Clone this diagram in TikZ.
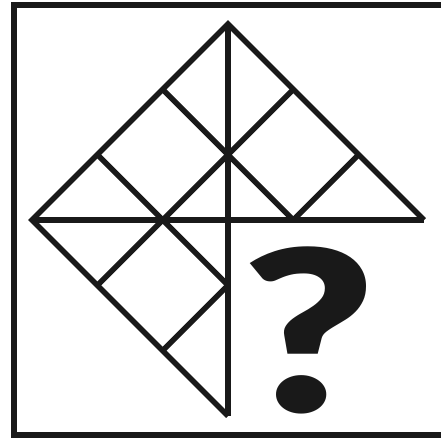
\documentclass[tikz,border=0pt]{standalone}
\usepackage{fontspec}
\newfontfamily\qfont{Lato Black}
\tikzset{
  frameline/.style={line width=6pt, draw=black!90},
  gridline/.style={line width=5.5pt, draw=black!90, line join=miter, line cap=butt},
  qmark/.style={inner sep=0pt, text=black!90, xscale=1.27, font=\qfont\fontsize{225}{225}\selectfont}
}
\begin{document}
\begin{tikzpicture}[x=1pt,y=-1pt]
\useasboundingbox (0,0) rectangle (440,441);
\draw[frameline] (14,5) rectangle (444,435);
% main points of the square
\coordinate (L) at (32,220);
\coordinate (T) at (228,24);
\coordinate (R) at (424,220);
\coordinate (B) at (228,416);
% grid points
\coordinate (u1a) at (97.33,154.67);
\coordinate (u1b) at (228,285.33);
\coordinate (u2a) at (162.67,89.33);
\coordinate (u2b) at (293.33,220);
\coordinate (v1a) at (97.33,285.33);
\coordinate (v1b) at (293.33,89.33);
\coordinate (v2a) at (162.67,350.67);
\coordinate (v2b) at (358.67,154.67);
% outline
\draw[gridline] (B) -- (L) -- (T) -- (R);
\draw[gridline] (L) -- (R);
\draw[gridline] (T) -- (B);
\draw[gridline] (u1a) -- (u1b);
\draw[gridline] (u2a) -- (u2b);
\draw[gridline] (v1a) -- (v1b);
\draw[gridline] (v2a) -- (u1b);
\draw[gridline] (u2b) -- (v2b);
\node[qmark] (q) at (309,330.5) {?};
\end{tikzpicture}
\end{document}
